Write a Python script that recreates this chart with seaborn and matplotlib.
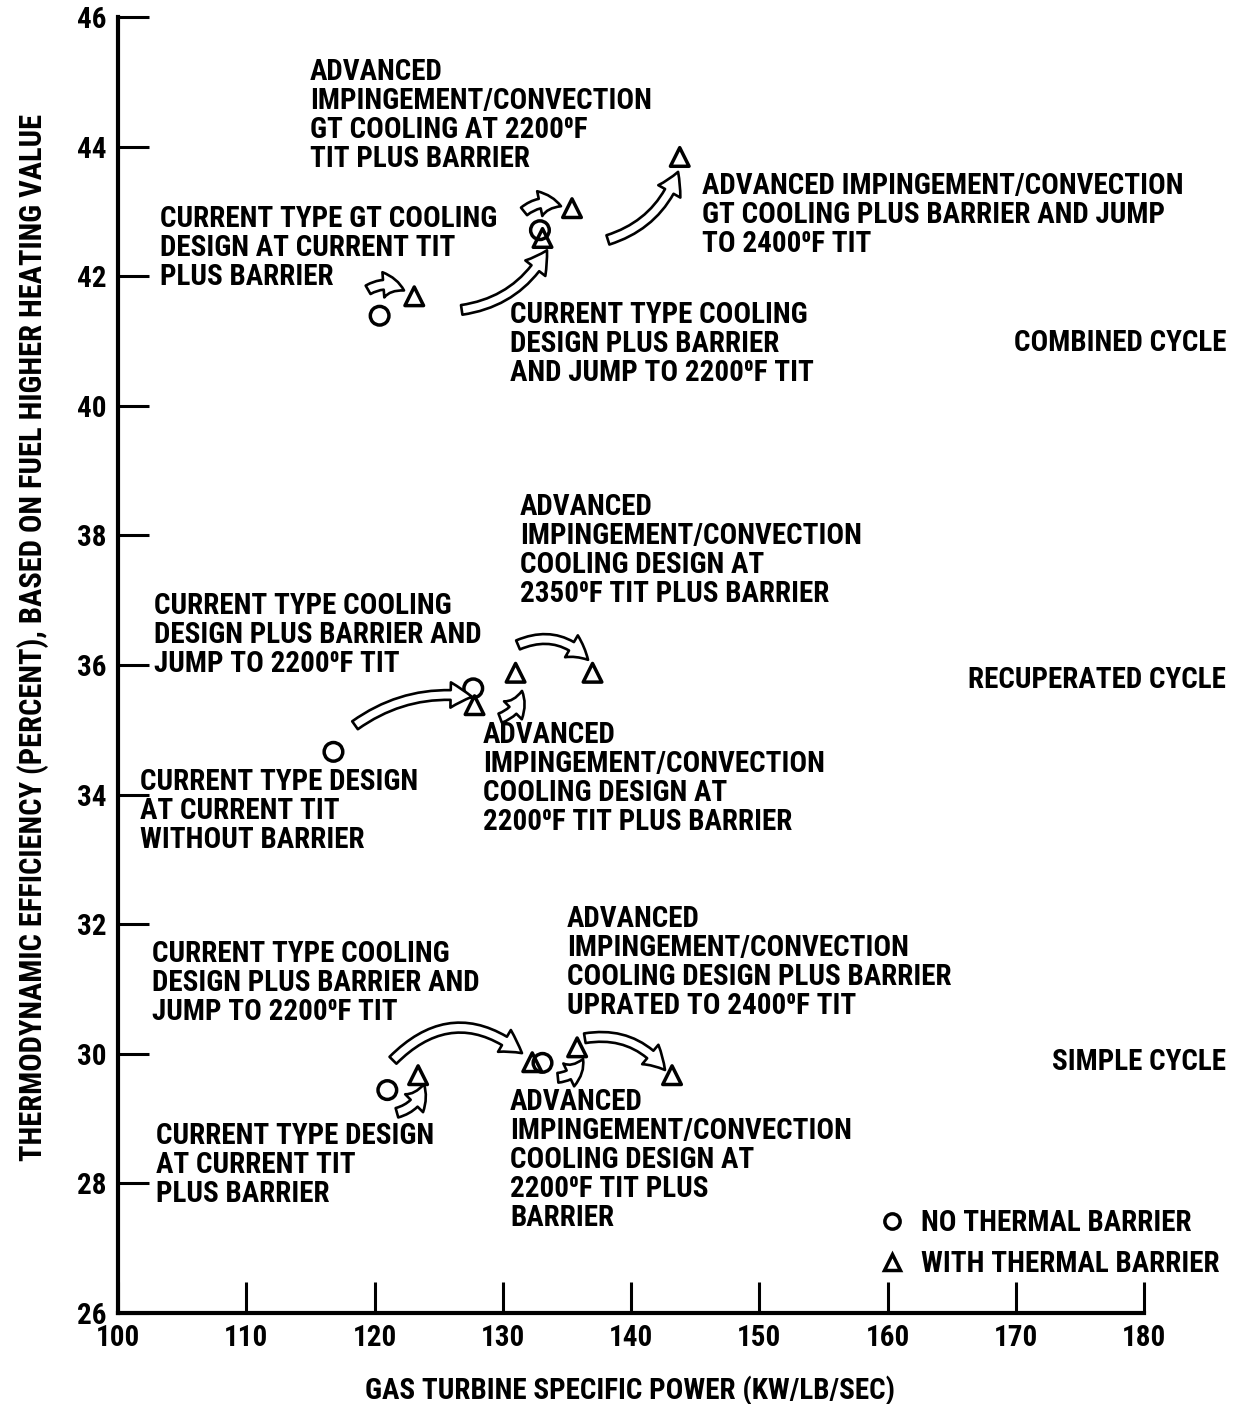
import numpy as np
import pandas as pd
import seaborn as sns
import matplotlib.pyplot as plt
from matplotlib.lines import Line2D

# data points (x: specific power, y: efficiency %)
cycle = ['Combined'] * 6 + ['Recuperated'] * 5 + ['Simple'] * 6
barrier = ['No', 'With', 'No', 'With', 'With', 'With',
           'No', 'No', 'With', 'With', 'With',
           'No', 'With', 'With', 'No', 'With', 'With']
power = [120.4, 123.1, 132.9, 133.1, 135.4, 143.8,
         116.8, 127.7, 127.8, 131.0, 137.0,
         121.0, 123.4, 132.3, 133.1, 135.8, 143.2]
efficiency = [41.39, 41.69, 42.71, 42.59, 43.05, 43.84,
              34.66, 35.64, 35.38, 35.88, 35.88,
              29.44, 29.67, 29.87, 29.86, 30.10, 29.67]

# arrows: (x0, y0, x1, y1, curvature)
arrows = [
    (119.5, 41.79, 122.3, 41.78, -0.3),
    (126.8, 41.48, 133.45, 42.40, 0.25),
    (131.66, 43.0, 134.54, 43.08, -0.3),
    (138.2, 42.56, 143.67, 43.61, 0.25),
    (118.48, 35.07, 127.6, 35.51, -0.2),
    (129.8, 35.18, 131.5, 35.6, 0.3),
    (131.19, 36.31, 136.65, 36.08, -0.35),
    (121.44, 29.90, 131.5, 30.01, -0.45),
    (121.75, 29.09, 123.86, 29.53, 0.3),
    (134.3, 29.63, 136.26, 29.92, 0.3),
    (136.4, 30.24, 142.65, 29.75, -0.3),
]

deg = '\u2070'
notes = [
    (310, 63, 'ADVANCED\nIMPINGEMENT/CONVECTION\nGT COOLING AT 2200' + deg + 'F\nTIT PLUS BARRIER'),
    (160, 210, 'CURRENT TYPE GT COOLING\nDESIGN AT CURRENT TIT\nPLUS BARRIER'),
    (702, 177, 'ADVANCED IMPINGEMENT/CONVECTION\nGT COOLING PLUS BARRIER AND JUMP\nTO 2400' + deg + 'F TIT'),
    (510, 306, 'CURRENT TYPE COOLING\nDESIGN PLUS BARRIER\nAND JUMP TO 2200' + deg + 'F TIT'),
    (520, 498, 'ADVANCED\nIMPINGEMENT/CONVECTION\nCOOLING DESIGN AT\n2350' + deg + 'F TIT PLUS BARRIER'),
    (154, 597, 'CURRENT TYPE COOLING\nDESIGN PLUS BARRIER AND\nJUMP TO 2200' + deg + 'F TIT'),
    (483, 726, 'ADVANCED\nIMPINGEMENT/CONVECTION\nCOOLING DESIGN AT\n2200' + deg + 'F TIT PLUS BARRIER'),
    (140, 773, 'CURRENT TYPE DESIGN\nAT CURRENT TIT\nWITHOUT BARRIER'),
    (567, 910, 'ADVANCED\nIMPINGEMENT/CONVECTION\nCOOLING DESIGN PLUS BARRIER\nUPRATED TO 2400' + deg + 'F TIT'),
    (152, 945, 'CURRENT TYPE COOLING\nDESIGN PLUS BARRIER AND\nJUMP TO 2200' + deg + 'F TIT'),
    (510, 1093, 'ADVANCED\nIMPINGEMENT/CONVECTION\nCOOLING DESIGN AT\n2200' + deg + 'F TIT PLUS\nBARRIER'),
    (156, 1127, 'CURRENT TYPE DESIGN\nAT CURRENT TIT\nPLUS BARRIER'),
]
cycle_labels = [(343, 'COMBINED CYCLE'), (680, 'RECUPERATED CYCLE'), (1062, 'SIMPLE CYCLE')]

sns.set_style('ticks')
plt.rcParams['font.family'] = ['Roboto Condensed', 'DejaVu Sans']
plt.rcParams['font.weight'] = 'bold'
for k in ['text.color', 'axes.labelcolor', 'xtick.color', 'ytick.color', 'axes.edgecolor']:
    plt.rcParams[k] = 'black'
FS = 21
W, H = 1239, 1404

df = pd.DataFrame({'cycle': cycle, 'barrier': barrier, 'power': power, 'eff': efficiency})

fig = plt.figure(figsize=(W / 100, H / 100), dpi=100)
ax = fig.add_axes([118 / W, 1 - 1313 / H, (1144 - 118) / W, (1313 - 17) / H])

sns.scatterplot(data=df, x='power', y='eff', style='barrier',
                markers={'No': 'o', 'With': '^'}, s=180,
                facecolor='none', edgecolor='black', linewidth=2.5,
                legend=False, ax=ax, zorder=3)

for x0, y0, x1, y1, rad in arrows:
    ax.annotate('', xy=(x1, y1), xytext=(x0, y0),
                arrowprops=dict(arrowstyle='simple,head_width=1.3,head_length=1.1,tail_width=0.5',
                                mutation_scale=14, fc='white', ec='black', lw=1.9,
                                connectionstyle='arc3,rad=%s' % rad,
                                shrinkA=0, shrinkB=0))

ax.set_xlim(100, 180)
ax.set_ylim(26, 46)
ax.set_xticks(np.arange(100, 181, 10))
ax.set_yticks(np.arange(26, 47, 2))
ax.tick_params(direction='in', length=22, width=2.2, labelsize=FS, pad=8)
for lab in ax.get_xticklabels() + ax.get_yticklabels():
    lab.set_fontweight('bold')
for side in ['top', 'right']:
    ax.spines[side].set_visible(False)
for side in ['left', 'bottom']:
    ax.spines[side].set_linewidth(3)
ax.set_xlabel('')
ax.set_ylabel('')

fig.text(630 / W, 1 - 1391 / H, 'GAS TURBINE SPECIFIC POWER (KW/LB/SEC)',
         ha='center', va='center', fontsize=FS, fontweight='bold')
fig.text(33 / W, 1 - 637 / H,
         'THERMODYNAMIC EFFICIENCY (PERCENT), BASED ON FUEL HIGHER HEATING VALUE',
         ha='center', va='center', rotation=90, fontsize=22, fontweight='bold')

for px, py, txt in notes:
    fig.text(px / W, 1 - (py - 5) / H, txt, ha='left', va='top',
             fontsize=FS, fontweight='bold', linespacing=1.05)
for py, txt in cycle_labels:
    fig.text(1226 / W, 1 - py / H, txt, ha='right', va='center',
             fontsize=FS, fontweight='bold')

handles = [Line2D([], [], ls='none', marker='o', mfc='none', mec='black', mew=2.5, ms=11),
           Line2D([], [], ls='none', marker='^', mfc='none', mec='black', mew=2.5, ms=12)]
ax.legend(handles, ['NO THERMAL BARRIER', 'WITH THERMAL BARRIER'],
          loc='lower left', bbox_to_anchor=(880 / W, 1 - 1278 / H),
          bbox_transform=fig.transFigure, frameon=False, fontsize=FS,
          handlelength=0.8, handletextpad=0.6, labelspacing=0.45,
          borderpad=0, borderaxespad=0)

fig.savefig('out.png', dpi=100)
